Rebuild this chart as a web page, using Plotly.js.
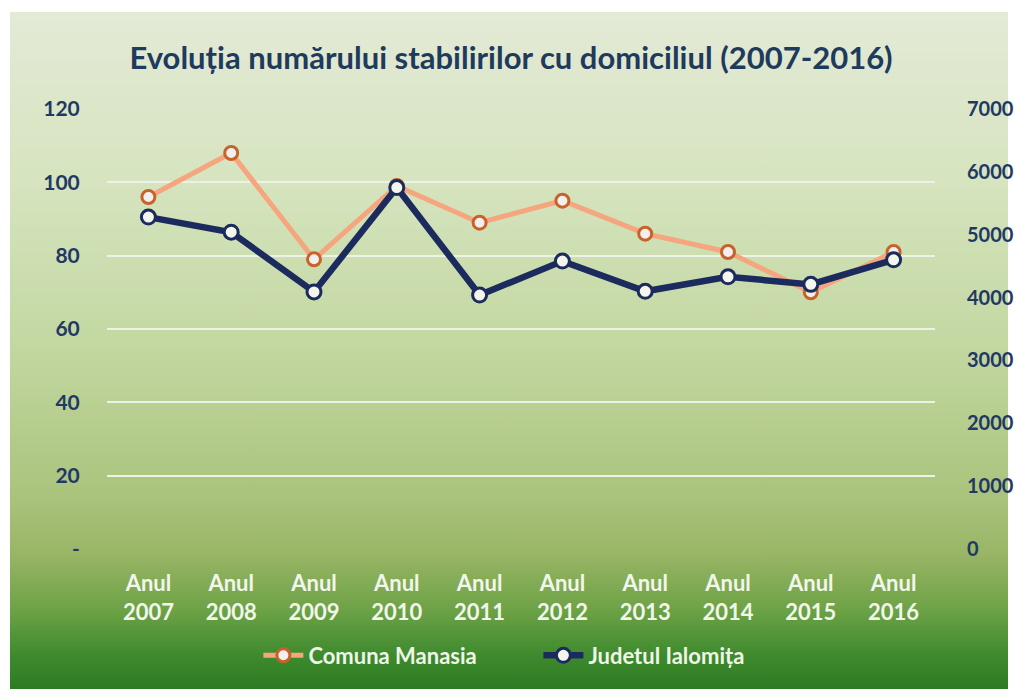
<!DOCTYPE html>
<html>
<head>
<meta charset="utf-8">
<script src="https://cdn.plot.ly/plotly-3.0.1.min.js"></script>
<style>
  html, body { margin: 0; padding: 0; background: #ffffff; }
  #wrap { position: relative; width: 1014px; height: 689px; }
  #bg { position: absolute; left: 10px; top: 12px; width: 998px; height: 677px;
        background: linear-gradient(to bottom, #e3ead6 0%, #d6e4bf 25%, #c2d7a0 50%, #a9c37b 72%, #99b566 80%, #6fa347 88%, #3f8a2e 95%, #2c7b22 100%); }
  #chart { position: absolute; left: 0; top: 0; width: 1014px; height: 689px; }
</style>
</head>
<body>
<div id="wrap">
  <div id="bg"></div>
  <div id="chart"></div>
</div>
<script>
const categories = ["Anul<br>2007","Anul<br>2008","Anul<br>2009","Anul<br>2010","Anul<br>2011","Anul<br>2012","Anul<br>2013","Anul<br>2014","Anul<br>2015","Anul<br>2016"];
const comunaManasia = [96, 108, 79, 99, 89, 95, 86, 81, 70, 81];
const judetulIalomita = [5280, 5040, 4090, 5750, 4040, 4580, 4100, 4330, 4210, 4600];
const leftTickVals = [0, 20, 40, 60, 80, 100, 120];
const leftTickText = ["-", "20", "40", "60", "80", "100", "120"];
const rightTickVals = [0, 1000, 2000, 3000, 4000, 5000, 6000, 7000];
const rightTickText = ["0", "1000", "2000", "3000", "4000", "5000", "6000", "7000"];

const FONT = "Lato, 'Open Sans', sans-serif";
const NAVY = "#1f3864";

const traces = [
  {
    x: categories, y: comunaManasia, name: "Comuna Manasia",
    type: "scatter", mode: "lines+markers", yaxis: "y",
    line: { color: "#f5a67e", width: 5 },
    marker: { size: 13, color: "#f2efee", line: { color: "#c8622a", width: 3 } }
  },
  {
    x: categories, y: judetulIalomita, name: "Judetul Ialomița",
    type: "scatter", mode: "lines+markers", yaxis: "y2",
    line: { color: "#1c2b5e", width: 6.5 },
    marker: { size: 14, color: "#f4f6ee", line: { color: "#1c2b5e", width: 3 } }
  }
];

const layout = {
  width: 1014, height: 689,
  paper_bgcolor: "rgba(0,0,0,0)", plot_bgcolor: "rgba(0,0,0,0)",
  margin: { l: 107, r: 79, t: 109, b: 138 },
  font: { family: FONT },
  title: {
    text: "<b>Evoluția numărului stabilirilor cu domiciliul (2007-2016)</b>",
    font: { family: FONT, size: 31, color: "#1e3a5c" },
    x: 0.504, xanchor: "center", y: 0.915, yanchor: "middle"
  },
  xaxis: {
    type: "category", range: [-0.5, 9.5],
    showgrid: false, zeroline: false, showline: false,
    ticks: "outside", ticklen: 15, tickcolor: "rgba(0,0,0,0)",
    tickfont: { family: FONT, size: 22, color: "#f2f6ec", weight: "bold" }
  },
  yaxis: {
    range: [0, 120], tickvals: leftTickVals, ticktext: leftTickText,
    showgrid: true, gridcolor: "#eef2e6", gridwidth: 2,
    zeroline: false, showline: false,
    ticks: "outside", ticklen: 22, tickcolor: "rgba(0,0,0,0)",
    tickfont: { family: FONT, size: 21, color: NAVY, weight: "bold" }
  },
  yaxis2: {
    overlaying: "y", side: "right",
    range: [0, 7000], tickvals: rightTickVals, ticktext: rightTickText,
    showgrid: false, zeroline: false, showline: false,
    ticks: "outside", ticklen: 27, tickcolor: "rgba(0,0,0,0)",
    tickfont: { family: FONT, size: 20, color: NAVY, weight: "bold" }
  },
  showlegend: true,
  legend: {
    orientation: "h", x: 0.521, xanchor: "center", y: -0.242, yanchor: "middle",
    font: { family: FONT, size: 22, color: "#eef6e8", weight: "bold" },
    bgcolor: "rgba(0,0,0,0)", itemwidth: 40,
    entrywidth: 225, entrywidthmode: "pixels"
  }
};

Plotly.newPlot("chart", traces, layout, { displayModeBar: false, staticPlot: true });
</script>
</body>
</html>
